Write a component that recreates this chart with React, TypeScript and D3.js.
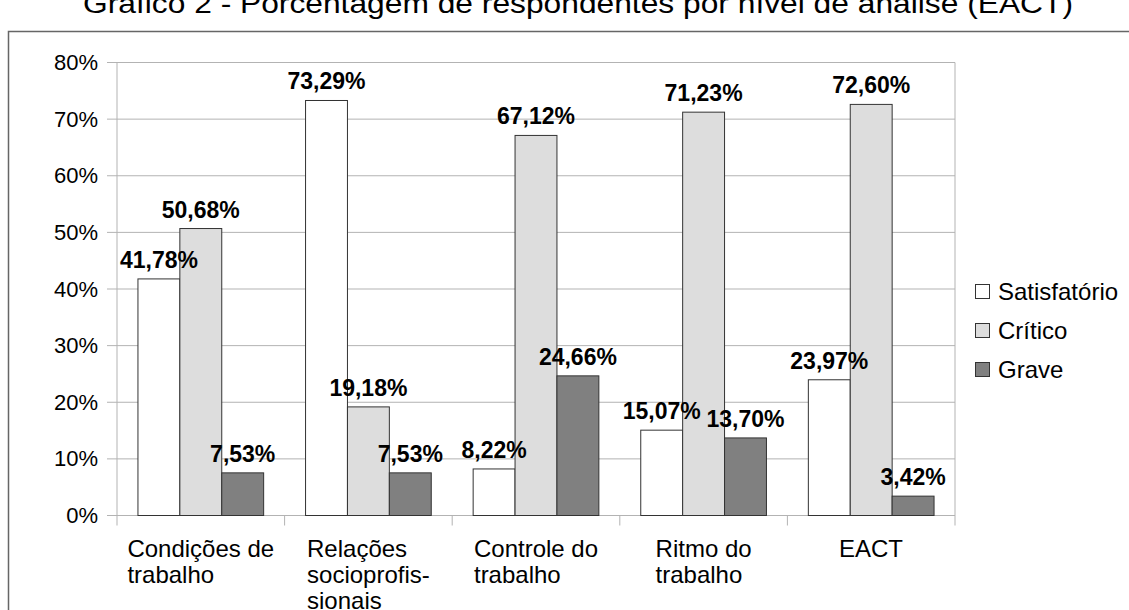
import * as d3 from "d3";
import {useEffect, useRef} from "react";

// data
const categories = ["Condições de trabalho", "Relações socioprofissionais", "Controle do trabalho", "Ritmo do trabalho", "EACT"];
const categoryLines = [["Condições de", "trabalho"], ["Relações", "socioprofis-", "sionais"], ["Controle do", "trabalho"], ["Ritmo do", "trabalho"], ["EACT"]];
const seriesNames = ["Satisfatório", "Crítico", "Grave"];
const satisfatorio = [41.78, 73.29, 8.22, 15.07, 23.97];
const critico = [50.68, 19.18, 67.12, 71.23, 72.60];
const grave = [7.53, 7.53, 24.66, 13.70, 3.42];
const yTicks = [0, 10, 20, 30, 40, 50, 60, 70, 80];
const title = "Gráfico 2 - Porcentagem de respondentes por nível de análise (EACT)";

const App = () => {
    const ref = useRef<SVGSVGElement>(null);

    useEffect(() => {
        const svg = d3.select(ref.current);
        svg.selectAll("*").remove();

        const font = "'Liberation Sans', Arial, sans-serif";
        const left = 117, right = 955, top = 62.5, bottom = 515.5;

        const values = [satisfatorio, critico, grave];
        const colors = ["#ffffff", "#dddddd", "#808080"];

        const x0 = d3.scaleBand().domain(categories).range([left, right]).paddingInner(0.25).paddingOuter(0.125);
        const x1 = d3.scaleBand().domain(seriesNames).range([0, x0.bandwidth()]);
        const y = d3.scaleLinear().domain([0, 80]).range([bottom, top]);
        const color = d3.scaleOrdinal<string, string>().domain(seriesNames).range(colors);
        const fmt = (v: number) => d3.format(".2f")(v).replace(".", ",") + "%";

        // title (cut at the top) and outer frame
        svg.append("text")
            .attr("x", 578).attr("y", 13)
            .attr("text-anchor", "middle")
            .attr("font-family", font).attr("font-size", 27)
            .attr("textLength", 990).attr("lengthAdjust", "spacingAndGlyphs")
            .text(title);
        svg.append("rect")
            .attr("x", 8.5).attr("y", 31.5).attr("width", 1140).attr("height", 620)
            .attr("fill", "none").attr("stroke", "#666").attr("stroke-width", 1.5);

        // grid
        svg.append("g").selectAll("line").data(yTicks).join("line")
            .attr("x1", left - 10).attr("x2", right)
            .attr("y1", d => y(d)).attr("y2", d => y(d))
            .attr("stroke", "#b3b3b3");
        svg.append("line").attr("x1", left).attr("x2", left).attr("y1", top).attr("y2", bottom).attr("stroke", "#b3b3b3");
        svg.append("line").attr("x1", right).attr("x2", right).attr("y1", top).attr("y2", bottom + 10).attr("stroke", "#b3b3b3");

        const step = x0.step();
        svg.append("g").selectAll("line").data(categories).join("line")
            .attr("x1", d => x0(d)! - step * 0.125).attr("x2", d => x0(d)! - step * 0.125)
            .attr("y1", bottom).attr("y2", bottom + 10)
            .attr("stroke", "#b3b3b3");

        // y labels
        svg.append("g").selectAll("text").data(yTicks).join("text")
            .attr("x", 98).attr("y", d => y(d) + 7.5)
            .attr("text-anchor", "end")
            .attr("font-family", font).attr("font-size", 22).attr("fill", "#000")
            .text(d => d + "%");

        // bars
        const groups = svg.append("g").selectAll("g").data(categories).join("g")
            .attr("transform", d => `translate(${x0(d)},0)`);
        groups.selectAll("rect")
            .data((d, i) => seriesNames.map((s, j) => ({s, v: values[j][i]})))
            .join("rect")
            .attr("x", d => x1(d.s)!)
            .attr("y", d => y(d.v))
            .attr("width", x1.bandwidth())
            .attr("height", d => bottom - y(d.v))
            .attr("fill", d => color(d.s))
            .attr("stroke", "#333")
            .attr("stroke-width", 1);
        groups.selectAll("text")
            .data((d, i) => seriesNames.map((s, j) => ({s, v: values[j][i]})))
            .join("text")
            .attr("x", d => x1(d.s)! + x1.bandwidth() / 2)
            .attr("y", d => y(d.v) - 11)
            .attr("text-anchor", "middle")
            .attr("font-family", font).attr("font-size", 23).attr("font-weight", "bold")
            .text(d => fmt(d.v));

        // category labels: block centered in band, lines left aligned
        categories.forEach((c, i) => {
            const t = svg.append("text")
                .attr("font-family", font).attr("font-size", 24).attr("fill", "#000");
            categoryLines[i].forEach((ln, k) => {
                t.append("tspan").attr("x", 0).attr("y", 557 + k * 26).text(ln);
            });
            const w = (t.node() as SVGTextElement).getBBox().width;
            const cx = x0(c)! + x0.bandwidth() / 2;
            t.attr("transform", `translate(${cx - w / 2},0)`);
        });

        // legend
        const legend = svg.append("g").selectAll("g").data(seriesNames).join("g")
            .attr("transform", (d, i) => `translate(975,${300 + i * 39})`);
        legend.append("rect")
            .attr("x", 0.5).attr("y", -15.5).attr("width", 14).attr("height", 14)
            .attr("fill", d => color(d)).attr("stroke", "#333");
        legend.append("text")
            .attr("x", 23).attr("y", 0)
            .attr("font-family", font).attr("font-size", 24)
            .text(d => d);
    }, []);

    return (
        <svg ref={ref} width={1129} height={610}
             style={{position: "absolute", left: 0, top: 0, background: "#fff"}}/>
    );
};

export default App;
